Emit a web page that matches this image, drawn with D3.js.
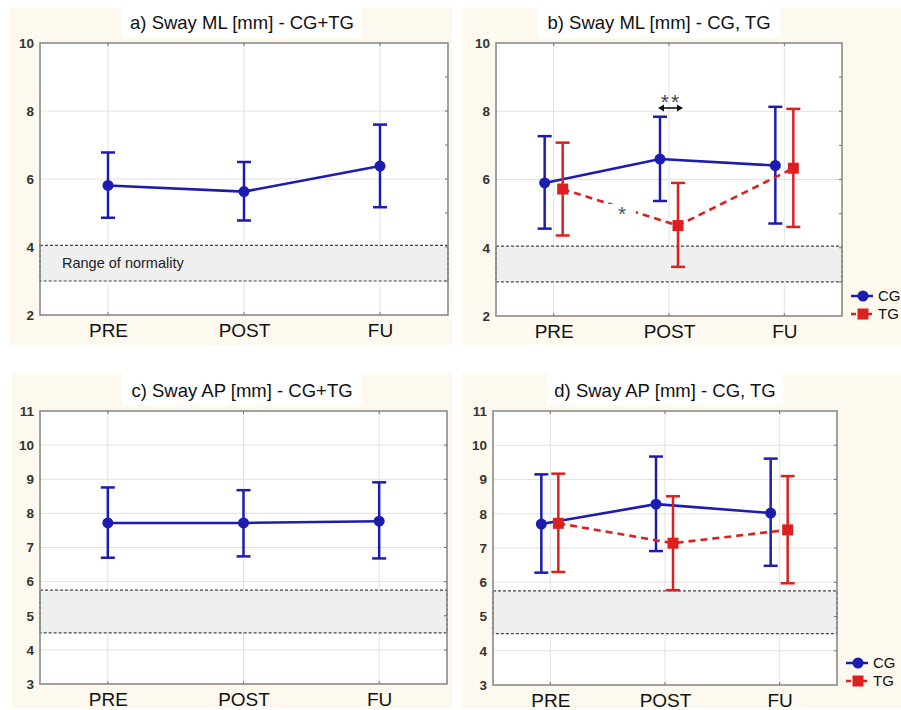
<!DOCTYPE html>
<html>
<head>
<meta charset="utf-8">
<script src="https://cdn.jsdelivr.net/npm/d3@7"></script>
<style>
  body { margin: 0; background: #fff; }
  svg { display: block; font-family: "Liberation Sans", Arial, sans-serif; }
</style>
</head>
<body>
<div id="chart"></div>
<script>
// categories and values
var categories = ["PRE", "POST", "FU"];

var mlAllMean = [5.81, 5.63, 6.38];
var mlAllLow  = [4.86, 4.78, 5.17];
var mlAllHigh = [6.78, 6.50, 7.60];

var mlCgMean = [5.90, 6.60, 6.41];
var mlCgLow  = [4.56, 5.37, 4.71];
var mlCgHigh = [7.27, 7.84, 8.13];
var mlTgMean = [5.72, 4.65, 6.33];
var mlTgLow  = [4.36, 3.44, 4.61];
var mlTgHigh = [7.08, 5.90, 8.07];

var apAllMean = [7.72, 7.72, 7.77];
var apAllLow  = [6.70, 6.74, 6.68];
var apAllHigh = [8.76, 8.68, 8.91];

var apCgMean = [7.70, 8.28, 8.02];
var apCgLow  = [6.28, 6.91, 6.48];
var apCgHigh = [9.15, 9.67, 9.61];
var apTgMean = [7.72, 7.14, 7.53];
var apTgLow  = [6.30, 5.77, 5.97];
var apTgHigh = [9.17, 8.51, 9.10];

var mlNormal = [3.0, 4.05];
var apNormal = [4.5, 5.75];

var mlTicks = [2, 4, 6, 8, 10];
var apTicks = [3, 4, 5, 6, 7, 8, 9, 10, 11];

var titles = ["a) Sway ML [mm] - CG+TG", "b) Sway ML [mm] - CG, TG",
              "c) Sway AP [mm] - CG+TG", "d) Sway AP [mm] - CG, TG"];
var groups = ["CG", "TG"];

var BLUE = "#1c1cb0";
var RED = "#dd1f1f";

//////////////////////////////////////////////////////////////////////////////

var svg = d3.select("#chart").append("svg")
  .attr("width", 901)
  .attr("height", 710);

var panels = [
  { bg: [10, 8, 442, 337], titleBox: [122, 8, 240, 30], left: 40, right: 448, top: 43, bottom: 315,
    domain: [2, 10], ticks: mlTicks, normal: mlNormal, title: titles[0], normalText: true,
    series: [{ mean: mlAllMean, low: mlAllLow, high: mlAllHigh, color: BLUE, dash: null, shape: "circle", dx: 0 }] },
  { bg: [462, 8, 439, 337], titleBox: [538, 8, 242, 30], left: 496, right: 842, top: 43, bottom: 316,
    domain: [2, 10], ticks: mlTicks, normal: mlNormal, title: titles[1], legendY: 296,
    series: [
      { mean: mlCgMean, low: mlCgLow, high: mlCgHigh, color: BLUE, dash: null, shape: "circle", dx: -9 },
      { mean: mlTgMean, low: mlTgLow, high: mlTgHigh, color: RED, dash: "7,5", shape: "square", dx: 9 }
    ] },
  { bg: [12, 373, 440, 335], titleBox: [122, 373, 240, 32], left: 40, right: 447, top: 411, bottom: 684,
    domain: [3, 11], ticks: apTicks, normal: apNormal, title: titles[2],
    series: [{ mean: apAllMean, low: apAllLow, high: apAllHigh, color: BLUE, dash: null, shape: "circle", dx: 0 }] },
  { bg: [462, 373, 439, 335], titleBox: [547, 373, 236, 32], left: 493, right: 837, top: 411, bottom: 685,
    domain: [3, 11], ticks: apTicks, normal: apNormal, title: titles[3], legendY: 663,
    series: [
      { mean: apCgMean, low: apCgLow, high: apCgHigh, color: BLUE, dash: null, shape: "circle", dx: -9 },
      { mean: apTgMean, low: apTgLow, high: apTgHigh, color: RED, dash: "7,5", shape: "square", dx: 8 }
    ] }
];

panels.forEach(function(p, i) { drawPanel(p, i); });

//////////////////////////////////////////////////////////////////////////////

function drawPanel(p, idx) {
  var g = svg.append("g");

  // cream page background + white title box
  g.append("rect").attr("x", p.bg[0]).attr("y", p.bg[1])
    .attr("width", p.bg[2]).attr("height", p.bg[3]).attr("fill", "#fdf9ee");
  g.append("rect").attr("x", p.titleBox[0]).attr("y", p.titleBox[1])
    .attr("width", p.titleBox[2]).attr("height", p.titleBox[3]).attr("fill", "#fff");

  var x = d3.scalePoint().domain(categories).range([p.left, p.right]).padding(0.5);
  var y = d3.scaleLinear().domain(p.domain).range([p.bottom, p.top]);

  g.append("rect").attr("x", p.left).attr("y", p.top)
    .attr("width", p.right - p.left).attr("height", p.bottom - p.top).attr("fill", "#fff");

  // grid
  g.selectAll(".hgrid").data(p.ticks.slice(1, -1)).enter().append("line")
    .attr("x1", p.left).attr("x2", p.right)
    .attr("y1", function(d) { return y(d); }).attr("y2", function(d) { return y(d); })
    .attr("stroke", "#e2e2e2").attr("stroke-width", 1);
  g.selectAll(".vgrid").data(categories).enter().append("line")
    .attr("x1", function(d) { return x(d); }).attr("x2", function(d) { return x(d); })
    .attr("y1", p.top).attr("y2", p.bottom)
    .attr("stroke", "#e2e2e2").attr("stroke-width", 1);

  // range of normality
  g.append("rect")
    .attr("x", p.left).attr("width", p.right - p.left)
    .attr("y", y(p.normal[1])).attr("height", y(p.normal[0]) - y(p.normal[1]))
    .attr("fill", "#efefef")
    .attr("stroke", "#444").attr("stroke-width", 1.2).attr("stroke-dasharray", "3,2");
  if (p.normalText) {
    g.append("text")
      .attr("x", p.left + 22).attr("y", (y(p.normal[0]) + y(p.normal[1])) / 2 + 5)
      .attr("font-size", 14.5).attr("fill", "#222")
      .text("Range of normality");
  }

  // frame
  g.append("rect").attr("x", p.left).attr("y", p.top)
    .attr("width", p.right - p.left).attr("height", p.bottom - p.top)
    .attr("fill", "none").attr("stroke", "#8a8a8a").attr("stroke-width", 1.6);

  // small inner ticks on right / top / bottom
  var minor = d3.range(p.domain[0] + 1, p.domain[1], 1);
  g.selectAll(".rtick").data(minor).enter().append("line")
    .attr("x1", p.right - 3).attr("x2", p.right)
    .attr("y1", function(d) { return y(d); }).attr("y2", function(d) { return y(d); })
    .attr("stroke", "#777").attr("stroke-width", 1);
  g.selectAll(".ttick").data(categories).enter().append("line")
    .attr("x1", function(d) { return x(d); }).attr("x2", function(d) { return x(d); })
    .attr("y1", p.top).attr("y2", p.top + 3)
    .attr("stroke", "#777").attr("stroke-width", 1);
  g.selectAll(".btick").data(categories).enter().append("line")
    .attr("x1", function(d) { return x(d); }).attr("x2", function(d) { return x(d); })
    .attr("y1", p.bottom - 3).attr("y2", p.bottom)
    .attr("stroke", "#777").attr("stroke-width", 1);

  // y axis labels
  var yAxis = g.append("g")
    .attr("transform", "translate(" + p.left + ",0)")
    .call(d3.axisLeft(y).tickValues(p.ticks).tickSize(0).tickPadding(6));
  yAxis.select(".domain").remove();
  yAxis.selectAll("text")
    .attr("font-size", 13.5).attr("font-family", "Liberation Sans, Arial, sans-serif")
    .attr("font-weight", "bold").attr("fill", "#333");

  // x axis labels
  var xAxis = g.append("g")
    .attr("transform", "translate(0," + p.bottom + ")")
    .call(d3.axisBottom(x).tickSize(0).tickPadding(9));
  xAxis.select(".domain").remove();
  xAxis.selectAll("text")
    .attr("font-size", 19).attr("font-family", "Liberation Sans, Arial, sans-serif")
    .attr("fill", "#111").attr("dy", "0.71em");

  // title
  g.append("text")
    .attr("x", (p.titleBox[0] + p.titleBox[0] + p.titleBox[2]) / 2)
    .attr("y", p.top - 14)
    .attr("text-anchor", "middle")
    .attr("font-size", 18.5).attr("fill", "#111")
    .text(p.title);

  // series: lines, error bars, markers
  p.series.forEach(function(s) {
    var pts = categories.map(function(c, i) {
      return { cx: x(c) + s.dx, mean: s.mean[i], low: s.low[i], high: s.high[i] };
    });

    g.selectAll(null).data(pts).enter().append("line")
      .attr("x1", function(d) { return d.cx; }).attr("x2", function(d) { return d.cx; })
      .attr("y1", function(d) { return y(d.low); }).attr("y2", function(d) { return y(d.high); })
      .attr("stroke", s.color).attr("stroke-width", 2.5);
    ["low", "high"].forEach(function(k) {
      g.selectAll(null).data(pts).enter().append("line")
        .attr("x1", function(d) { return d.cx - 7; }).attr("x2", function(d) { return d.cx + 7; })
        .attr("y1", function(d) { return y(d[k]); }).attr("y2", function(d) { return y(d[k]); })
        .attr("stroke", s.color).attr("stroke-width", 2.5);
    });

    var line = d3.line().x(function(d) { return d.cx; }).y(function(d) { return y(d.mean); });
    g.append("path").datum(pts)
      .attr("d", line)
      .attr("fill", "none").attr("stroke", s.color).attr("stroke-width", 2.6)
      .attr("stroke-dasharray", s.dash);

    drawMarkers(g, pts.map(function(d) { return [d.cx, y(d.mean)]; }), s);
  });

  if (idx == 1) {
    // gap in the TG line where the * sits
    var gx = 622, gy = 209;
    g.append("rect").attr("x", gx - 14).attr("y", gy - 5).attr("width", 28).attr("height", 10)
      .attr("fill", "#fff");
    g.append("text").attr("x", gx).attr("y", gy + 12).attr("text-anchor", "middle")
      .attr("font-size", 21).attr("fill", "#555").text("*");
    g.append("text").attr("x", 671).attr("y", 109).attr("text-anchor", "middle")
      .attr("font-size", 21).attr("fill", "#444").attr("letter-spacing", 2).text("**");
    // double arrow
    g.append("line").attr("x1", 662).attr("x2", 679).attr("y1", 108).attr("y2", 108)
      .attr("stroke", "#111").attr("stroke-width", 1.6);
    g.append("path").attr("d", "M658,108 L664,104.5 L664,111.5 Z").attr("fill", "#111");
    g.append("path").attr("d", "M683,108 L677,104.5 L677,111.5 Z").attr("fill", "#111");
  }

  // legend
  if (p.legendY) {
    p.series.forEach(function(s, i) {
      var ly = p.legendY + i * 18;
      var lx = p.right + 9;
      g.append("line").attr("x1", lx).attr("x2", lx + 22).attr("y1", ly).attr("y2", ly)
        .attr("stroke", s.color).attr("stroke-width", 2.5)
        .attr("stroke-dasharray", s.dash ? "5,3" : null);
      drawMarkers(g, [[lx + 12, ly]], s);
      g.append("text").attr("x", lx + 27).attr("y", ly + 5)
        .attr("font-size", 15).attr("fill", "#111").text(groups[i]);
    });
  }
}

function drawMarkers(g, pts, s) {
  if (s.shape == "circle") {
    g.selectAll(null).data(pts).enter().append("circle")
      .attr("cx", function(d) { return d[0]; }).attr("cy", function(d) { return d[1]; })
      .attr("r", 5.5).attr("fill", s.color);
  } else {
    g.selectAll(null).data(pts).enter().append("rect")
      .attr("x", function(d) { return d[0] - 5.5; }).attr("y", function(d) { return d[1] - 5.5; })
      .attr("width", 11).attr("height", 11).attr("fill", s.color);
  }
}
</script>
</body>
</html>
